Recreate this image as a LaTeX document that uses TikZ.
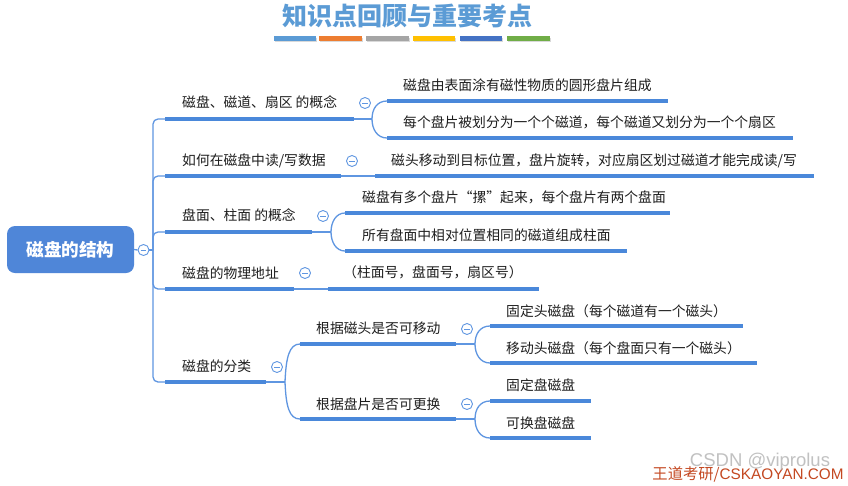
\documentclass[tikz,border=0pt]{standalone}
\usepackage{fontspec}
\setmainfont{Noto Sans CJK SC}
\newfontfamily\latinfont{Liberation Sans}
\definecolor{lb}{RGB}{74,136,218}
\definecolor{lb2}{RGB}{95,150,225}
\definecolor{rootc}{RGB}{79,134,216}
\definecolor{titlec}{RGB}{91,155,213}
\definecolor{txt}{RGB}{30,30,30}
\definecolor{c1}{HTML}{5B9BD5}
\definecolor{c2}{HTML}{ED7D31}
\definecolor{c3}{HTML}{A5A5A5}
\definecolor{c4}{HTML}{FFC000}
\definecolor{c5}{HTML}{4472C4}
\definecolor{c6}{HTML}{70AD47}
\definecolor{wdc}{RGB}{196,72,33}
\begin{document}
\begin{tikzpicture}[x=1pt,y=-1pt,
  lbl/.style={anchor=west, inner sep=0pt, text height=0.88em, text depth=0.12em, font=\fontsize{13.8}{14}\selectfont, text=txt},
  bar/.style={line width=4pt, draw=lb},
  conn/.style={line width=1.3pt, draw=lb2, rounded corners=5pt},
  curve/.style={line width=1.3pt, draw=lb2},
  fold/.style={circle, draw=lb2, fill=white, line width=0.9pt, minimum size=11pt, inner sep=0pt,
    path picture={\draw[lb2, line width=0.9pt] ([xshift=-2.8pt]path picture bounding box.center) -- ([xshift=2.8pt]path picture bounding box.center);}},
  tbar/.style={line width=4.5pt},
  root/.style={rounded corners=8pt, fill=rootc, minimum width=127pt, minimum height=47pt, text=white, inner sep=0pt, font=\bfseries\fontsize{17.6}{18}\selectfont},
]
\useasboundingbox (0,0) rectangle (848,485);
\fill[white] (0,0) rectangle (848,485);

% title
\node[font=\bfseries\fontsize{25}{25}\selectfont, text=titlec, inner sep=0pt] (title) at (407,16) {知识点回顾与重要考点};
\foreach \a/\b/\c in {274/316/c1,319/362/c2,366/409/c3,413/455/c4,460/502/c5,507/550/c6}{
  \draw[tbar, black!15] (\a+1,40) -- (\b+1,40);
  \draw[tbar, \c] (\a,38.5) -- (\b,38.5);
}

% root
\node[root] (root) at (70.5,249.5) {磁盘的结构};
\node[fold] (rf) at (143.5,250) {};
\coordinate (sp) at (153,250);
\draw[conn] (root.east) -- (rf.west);
\draw[conn] (rf.east) -- (sp);

% level 1 coordinates
\coordinate (b1s) at (165,119); \coordinate (b1e) at (354,119);
\coordinate (b2s) at (165,176); \coordinate (b2e) at (341,176);
\coordinate (b3s) at (165,232); \coordinate (b3e) at (312,232);
\coordinate (b4s) at (165,289); \coordinate (b4e) at (294,289);
\coordinate (b5s) at (165,382); \coordinate (b5e) at (266,382);
\foreach \n in {1,...,5}{ \draw[conn] (sp) |- (b\n s); }
\foreach \n in {1,...,5}{ \draw[bar] (b\n s) -- (b\n e); }

\node[lbl] (t1) at (182,104) {磁盘、磁道、扇区 的概念};
\node[lbl] (t2) at (182,162) {如何在磁盘中读/写数据};
\node[lbl] (t3) at (182,217) {盘面、柱面 的概念};
\node[lbl] (t4) at (182,275) {磁盘的物理地址};
\node[lbl] (t5) at (182,368) {磁盘的分类};

% branch 1
\coordinate (j1) at (372,119);
\coordinate (c11s) at (387,101); \coordinate (c11e) at (668,101);
\coordinate (c12s) at (387,138); \coordinate (c12e) at (793,138);
\draw[curve] (b1e) -- (j1);
\draw[curve] (j1) .. controls (372,109) and (377,101) .. (c11s);
\draw[curve] (j1) .. controls (372,129) and (377,138) .. (c12s);
\draw[bar] (c11s) -- (c11e);
\draw[bar] (c12s) -- (c12e);
\node[fold] (f1) at (365,103) {};
\node[lbl] (t11) at (403,87) {磁盘由表面涂有磁性物质的圆形盘片组成};
\node[lbl] (t12) at (403,124) {每个盘片被划分为一个个磁道，每个磁道又划分为一个个扇区};

% branch 2
\coordinate (c21s) at (375,176); \coordinate (c21e) at (814,176);
\draw[curve] (b2e) -- (c21s);
\draw[bar] (c21s) -- (c21e);
\node[fold] (f2) at (352,161) {};
\node[lbl] (t21) at (391,162) {磁头移动到目标位置，盘片旋转，对应扇区划过磁道才能完成读/写};

% branch 3
\coordinate (j3) at (331,232);
\coordinate (c31s) at (345,213); \coordinate (c31e) at (670,213);
\coordinate (c32s) at (345,251); \coordinate (c32e) at (627,251);
\draw[curve] (b3e) -- (j3);
\draw[curve] (j3) .. controls (331,222) and (336,213) .. (c31s);
\draw[curve] (j3) .. controls (331,242) and (336,251) .. (c32s);
\draw[bar] (c31s) -- (c31e);
\draw[bar] (c32s) -- (c32e);
\node[fold] (f3) at (323,216) {};
\node[lbl] (t31) at (362,199) {磁盘有多个盘片“摞”起来，每个盘片有两个盘面};
\node[lbl] (t32) at (362,237) {所有盘面中相对位置相同的磁道组成柱面};

% branch 4
\coordinate (c41s) at (328,289); \coordinate (c41e) at (539,289);
\draw[curve] (b4e) -- (c41s);
\draw[bar] (c41s) -- (c41e);
\node[fold] (f4) at (305,273) {};
\node[lbl] (t41) at (343,274) {（柱面号，盘面号，扇区号）};

% branch 5
\coordinate (j5) at (285,382);
\coordinate (c51s) at (300,344); \coordinate (c51e) at (456,344);
\coordinate (c52s) at (300,419); \coordinate (c52e) at (456,419);
\draw[curve] (b5e) -- (j5);
\draw[curve] (j5) .. controls (286,358) and (289,344) .. (c51s);
\draw[curve] (j5) .. controls (286,406) and (289,419) .. (c52s);
\draw[bar] (c51s) -- (c51e);
\draw[bar] (c52s) -- (c52e);
\node[fold] (f5) at (277,367) {};
\node[lbl] (t51) at (316,330) {根据磁头是否可移动};
\node[lbl] (t52) at (316,406) {根据盘片是否可更换};

% level 3 under 5a
\coordinate (j51) at (475,344);
\coordinate (d1s) at (490,326); \coordinate (d1e) at (743,326);
\coordinate (d2s) at (490,363); \coordinate (d2e) at (757,363);
\draw[curve] (c51e) -- (j51);
\draw[curve] (j51) .. controls (475,334) and (480,326) .. (d1s);
\draw[curve] (j51) .. controls (475,354) and (480,363) .. (d2s);
\draw[bar] (d1s) -- (d1e);
\draw[bar] (d2s) -- (d2e);
\node[fold] (f51) at (467,329) {};
\node[lbl] (td1) at (506,313) {固定头磁盘（每个磁道有一个磁头）};
\node[lbl] (td2) at (506,350) {移动头磁盘（每个盘面只有一个磁头）};

% level 3 under 5b
\coordinate (j52) at (475,419);
\coordinate (d3s) at (490,401); \coordinate (d3e) at (591,401);
\coordinate (d4s) at (490,438); \coordinate (d4e) at (591,438);
\draw[curve] (c52e) -- (j52);
\draw[curve] (j52) .. controls (475,409) and (480,401) .. (d3s);
\draw[curve] (j52) .. controls (475,429) and (480,438) .. (d4s);
\draw[bar] (d3s) -- (d3e);
\draw[bar] (d4s) -- (d4e);
\node[fold] (f52) at (467,404) {};
\node[lbl] (td3) at (506,387) {固定盘磁盘};
\node[lbl] (td4) at (506,425) {可换盘磁盘};

% watermarks
\node[inner sep=0pt, text=wdc, font=\fontsize{15.3}{16}\selectfont] (wd) at (748,474) {王道考研/{\latinfont CSKAOYAN.COM}};
\node[inner sep=0pt, text=black!30, opacity=0.8, font=\latinfont\fontsize{18.5}{19}\selectfont] (csdn) at (760,462) {CSDN @viprolus};
\end{tikzpicture}
\end{document}
